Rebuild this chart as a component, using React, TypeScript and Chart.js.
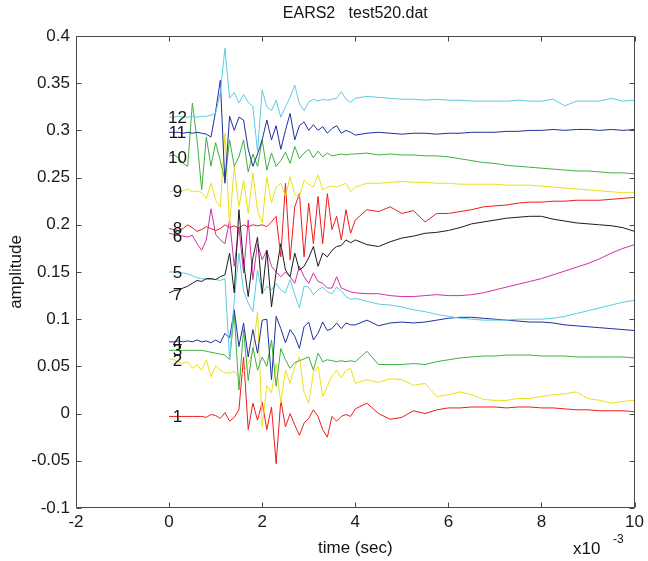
import React, { useEffect, useRef } from "react";
import { Chart, registerables } from "chart.js";

Chart.register(...registerables);

// time axis in units of 1e-3 s
const TIME_MS = [
  0, 0.1, 0.2, 0.3, 0.4, 0.5, 0.6, 0.7, 0.8, 0.9,
  1, 1.1, 1.2, 1.3, 1.4, 1.5, 1.6, 1.7, 1.8, 1.9,
  2, 2.1, 2.2, 2.3, 2.4, 2.5, 2.6, 2.7, 2.8, 2.9,
  3, 3.1, 3.2, 3.3, 3.4, 3.5, 3.6, 3.7, 3.8, 3.9,
  4,
  4.25, 4.5, 4.75, 5, 5.25, 5.5, 5.75, 6,
  6.25, 6.5, 6.75, 7, 7.25, 7.5, 7.75, 8,
  8.25, 8.5, 8.75, 9, 9.25, 9.5, 9.75, 10,
];

const TRACE_1 = [
  -0.003, -0.003, -0.003, -0.003, -0.003, -0.003, -0.003, -0.003, -0.004, -0.001,
  -0.002, -0.005, 0.001, -0.008, -0.004, 0.004, 0.06, -0.017, 0.011, -0.007,
  0.012, -0.017, 0.007, -0.053, 0.014, -0.014, 0.0, -0.012, -0.023, -0.01,
  -0.005, 0.004, -0.003, -0.017, -0.025, -0.003, -0.008, -0.003, -0.001, -0.003,
  0.005,
  0.011, 0.0, -0.006, -0.004, 0.003, 0.0, 0.004, 0.006,
  0.006, 0.007, 0.007, 0.007, 0.006, 0.007, 0.007, 0.006,
  0.006, 0.005, 0.004, 0.004, 0.003, 0.003, 0.003, 0.002,
];
const TRACE_2 = [
  0.058, 0.057, 0.055, 0.053, 0.055, 0.048, 0.052, 0.046, 0.057, 0.039,
  0.051, 0.046, 0.043, 0.043, 0.045, 0.039, 0.044, 0.053, 0.065, 0.108,
  -0.014, 0.03, 0.022, 0.053, 0.011, 0.046, 0.032, 0.05, 0.06, 0.022,
  0.011, 0.043, 0.05, 0.018, 0.029, 0.04, 0.046, 0.038, 0.046, 0.048,
  0.032,
  0.036, 0.033, 0.037, 0.036, 0.03, 0.032, 0.018, 0.02,
  0.023, 0.02, 0.015, 0.014, 0.014, 0.016, 0.016, 0.018,
  0.02, 0.021, 0.023, 0.016, 0.014, 0.011, 0.013, 0.014,
];
const TRACE_3 = [
  0.067, 0.067, 0.067, 0.067, 0.067, 0.067, 0.067, 0.067, 0.066, 0.065,
  0.064, 0.063, 0.062, 0.057, 0.106, 0.025, 0.089, 0.035, 0.07, 0.046,
  0.06, 0.05, 0.078, 0.029, 0.069, 0.057, 0.048, 0.054, 0.056, 0.058,
  0.06, 0.046, 0.064, 0.055, 0.057, 0.056, 0.055, 0.056, 0.055, 0.056,
  0.055,
  0.066, 0.052, 0.052, 0.052, 0.053, 0.052, 0.055, 0.057,
  0.059, 0.06, 0.061, 0.061, 0.062, 0.062, 0.062, 0.061,
  0.061, 0.061, 0.06, 0.06, 0.06, 0.06, 0.06, 0.059,
];
const TRACE_4 = [
  0.076, 0.076, 0.077, 0.076, 0.077, 0.076, 0.078, 0.076, 0.077, 0.075,
  0.078, 0.075, 0.085, 0.08, 0.11, 0.071, 0.096, 0.06, 0.089, 0.064,
  0.099, 0.1, 0.036, 0.103, 0.09, 0.075, 0.089, 0.082, 0.069, 0.092,
  0.097, 0.078, 0.085, 0.097, 0.088, 0.09, 0.096, 0.09, 0.096, 0.094,
  0.094,
  0.099, 0.093, 0.096, 0.097, 0.096, 0.097, 0.099, 0.101,
  0.102, 0.102, 0.101, 0.1, 0.099, 0.098, 0.097, 0.097,
  0.096, 0.094, 0.093, 0.092, 0.091, 0.09, 0.089, 0.088,
];
const TRACE_5 = [
  0.15, 0.15, 0.149, 0.149, 0.148, 0.146, 0.144, 0.143, 0.142, 0.142,
  0.142, 0.141, 0.143, 0.057, 0.12, 0.17, 0.13, 0.117, 0.108, 0.152,
  0.127, 0.135, 0.131, 0.138, 0.131, 0.128, 0.142, 0.126, 0.112, 0.135,
  0.134, 0.126, 0.131, 0.134, 0.129, 0.127, 0.134, 0.13, 0.124, 0.121,
  0.122,
  0.119, 0.116, 0.115, 0.113, 0.11, 0.108, 0.105, 0.103,
  0.101, 0.1, 0.099, 0.099, 0.099, 0.1, 0.1, 0.1,
  0.101, 0.103, 0.106, 0.109, 0.112, 0.115, 0.118, 0.12,
];
const TRACE_6 = [
  0.191, 0.19, 0.189, 0.188, 0.187, 0.189, 0.18, 0.173, 0.184, 0.217,
  0.19, 0.184, 0.18, 0.205, 0.156, 0.198, 0.149, 0.205, 0.142, 0.18,
  0.163, 0.173, 0.156, 0.15, 0.145, 0.15, 0.145, 0.138, 0.156, 0.145,
  0.138, 0.149, 0.14, 0.138, 0.133, 0.133, 0.145, 0.133, 0.131, 0.129,
  0.128,
  0.127, 0.127, 0.125, 0.124, 0.124, 0.125, 0.126, 0.125,
  0.125, 0.126, 0.128, 0.131, 0.134, 0.137, 0.14, 0.143,
  0.147, 0.151, 0.155, 0.159, 0.164, 0.17, 0.175, 0.179,
];
const TRACE_7 = [
  0.128, 0.13, 0.131, 0.133, 0.135, 0.138, 0.141, 0.14, 0.143, 0.143,
  0.142, 0.145, 0.147, 0.17, 0.128, 0.216, 0.16, 0.124, 0.165, 0.187,
  0.127, 0.173, 0.113, 0.15, 0.18, 0.152, 0.145, 0.17, 0.152, 0.156,
  0.165, 0.177, 0.156, 0.17, 0.166, 0.173, 0.177, 0.178, 0.184, 0.181,
  0.184,
  0.179, 0.177, 0.182, 0.186, 0.188, 0.191, 0.192, 0.194,
  0.197, 0.201, 0.203, 0.205, 0.207, 0.208, 0.209, 0.209,
  0.206, 0.204, 0.202, 0.201, 0.2, 0.199, 0.197, 0.193,
];
const TRACE_8 = [
  0.196, 0.195, 0.194, 0.196, 0.2, 0.197, 0.193, 0.195, 0.198, 0.196,
  0.194, 0.196, 0.2, 0.197, 0.199, 0.196, 0.2, 0.198, 0.2, 0.199,
  0.2, 0.198, 0.203, 0.209, 0.166, 0.244, 0.163, 0.219, 0.233, 0.166,
  0.223, 0.18, 0.23, 0.18, 0.233, 0.195, 0.209, 0.184, 0.216, 0.191,
  0.205,
  0.216, 0.214, 0.219, 0.212, 0.215, 0.203, 0.212, 0.212,
  0.214, 0.216, 0.219, 0.22, 0.221, 0.223, 0.224, 0.224,
  0.225, 0.225, 0.226, 0.226, 0.226, 0.227, 0.228, 0.229,
];
const TRACE_9 = [
  0.235, 0.236, 0.234, 0.236, 0.238, 0.235, 0.236, 0.234, 0.228, 0.244,
  0.226, 0.219, 0.297, 0.2, 0.262, 0.219, 0.247, 0.212, 0.255, 0.215,
  0.202, 0.251, 0.223, 0.24, 0.244, 0.23, 0.251, 0.232, 0.23, 0.247,
  0.243, 0.24, 0.253, 0.237, 0.24, 0.241, 0.24, 0.242, 0.244, 0.235,
  0.24,
  0.244, 0.244, 0.245, 0.246, 0.245, 0.245, 0.244, 0.244,
  0.243, 0.243, 0.243, 0.243, 0.242, 0.242, 0.242, 0.241,
  0.24, 0.239, 0.238, 0.237, 0.236, 0.235, 0.234, 0.234,
];
const TRACE_10 = [
  0.273, 0.274, 0.271, 0.265, 0.262, 0.329, 0.29, 0.237, 0.293, 0.262,
  0.287, 0.268, 0.247, 0.29, 0.262, 0.272, 0.29, 0.256, 0.275, 0.262,
  0.29, 0.258, 0.276, 0.262, 0.268, 0.277, 0.265, 0.283, 0.27, 0.276,
  0.28, 0.271, 0.278, 0.272, 0.276, 0.273, 0.274, 0.275, 0.274, 0.275,
  0.275,
  0.276, 0.274, 0.275, 0.274, 0.274, 0.273, 0.273, 0.272,
  0.27, 0.268, 0.266, 0.265, 0.263, 0.262, 0.261, 0.26,
  0.259, 0.258, 0.257, 0.257, 0.256, 0.255, 0.255, 0.254,
];
const TRACE_11 = [
  0.298, 0.298, 0.298, 0.297, 0.298, 0.297, 0.298, 0.297, 0.296, 0.293,
  0.32, 0.353, 0.244, 0.315, 0.3, 0.314, 0.311, 0.28, 0.262, 0.275,
  0.29, 0.311, 0.29, 0.305, 0.28, 0.3, 0.318, 0.29, 0.305, 0.309,
  0.3, 0.306, 0.3, 0.304, 0.297, 0.302, 0.305, 0.297, 0.3, 0.298,
  0.295,
  0.297, 0.298, 0.297, 0.296, 0.297, 0.297, 0.296, 0.297,
  0.297, 0.298, 0.298, 0.298, 0.299, 0.299, 0.3, 0.3,
  0.301, 0.3, 0.301, 0.301, 0.3, 0.301, 0.3, 0.301,
];
const TRACE_12 = [
  0.314, 0.314, 0.315, 0.314, 0.314, 0.315, 0.314, 0.315, 0.315, 0.316,
  0.318, 0.34, 0.387, 0.334, 0.34, 0.329, 0.338, 0.33, 0.325, 0.278,
  0.343, 0.325, 0.321, 0.332, 0.314, 0.325, 0.335, 0.348, 0.328, 0.321,
  0.33, 0.333, 0.331, 0.333, 0.332, 0.333, 0.334, 0.341, 0.333, 0.33,
  0.334,
  0.336, 0.335, 0.334, 0.333, 0.333, 0.332, 0.333, 0.332,
  0.332, 0.331, 0.331, 0.331, 0.331, 0.332, 0.331, 0.331,
  0.333, 0.326, 0.331, 0.331, 0.331, 0.334, 0.331, 0.332,
];

const TRACES = [
  TRACE_1, TRACE_2, TRACE_3, TRACE_4, TRACE_5, TRACE_6,
  TRACE_7, TRACE_8, TRACE_9, TRACE_10, TRACE_11, TRACE_12,
];
const TRACE_NAMES = ["1", "2", "3", "4", "5", "6", "7", "8", "9", "10", "11", "12"];
// vertical position (amplitude) of each trace's number label
const LABEL_AMPLITUDE = [
  -0.003, 0.056, 0.067, 0.076, 0.15, 0.188, 0.126, 0.196, 0.235, 0.272, 0.298, 0.314,
];
const LABEL_TIME = 0.18;

const X_TICKS = [-2, 0, 2, 4, 6, 8, 10];
const Y_TICKS = [-0.1, -0.05, 0, 0.05, 0.1, 0.15, 0.2, 0.25, 0.3, 0.35, 0.4];

const COLORS = [
  "#f01c1c", // r
  "#ece01a", // y
  "#3fb03f", // g
  "#1f2fa0", // b
  "#5ecbe2", // c
  "#d22fa6", // m
  "#1c1c1c", // k
];

const FONT = '"Liberation Sans", Arial, Helvetica, sans-serif';

const framePlugin = {
  id: "frame",
  afterDatasetsDraw(chart: any) {
    const { ctx, chartArea: a, scales } = chart;
    const x = scales.x;
    const y = scales.y;
    ctx.save();
    // box
    ctx.strokeStyle = "#4a4a4a";
    ctx.lineWidth = 1;
    const l = Math.round(a.left) + 0.5;
    const t = Math.round(a.top) + 0.5;
    const r = Math.round(a.right) - 0.5;
    const b = Math.round(a.bottom) - 0.5;
    ctx.beginPath();
    ctx.rect(l, t, r - l, b - t);
    const L = 5;
    X_TICKS.forEach((v) => {
      const px = Math.round(x.getPixelForValue(v)) + 0.5;
      ctx.moveTo(px, b);
      ctx.lineTo(px, b - L);
      ctx.moveTo(px, t);
      ctx.lineTo(px, t + L);
    });
    Y_TICKS.forEach((v) => {
      const py = Math.round(y.getPixelForValue(v)) + 0.5;
      ctx.moveTo(l, py);
      ctx.lineTo(l + L, py);
      ctx.moveTo(r, py);
      ctx.lineTo(r - L, py);
    });
    ctx.stroke();

    // trace numbers
    ctx.fillStyle = "#141414";
    ctx.font = `17px ${FONT}`;
    ctx.textAlign = "center";
    ctx.textBaseline = "middle";
    TRACE_NAMES.forEach((n, i) => {
      ctx.fillText(n, x.getPixelForValue(LABEL_TIME), y.getPixelForValue(LABEL_AMPLITUDE[i]) + 1);
    });

    // title
    const cx = (a.left + a.right) / 2;
    ctx.font = `16px ${FONT}`;
    ctx.fillText("EARS2   test520.dat", cx, 14);

    // axis titles
    ctx.font = `17px ${FONT}`;
    ctx.fillText("time (sec)", cx, 548);
    ctx.save();
    ctx.translate(16, (a.top + a.bottom) / 2);
    ctx.rotate(-Math.PI / 2);
    ctx.fillText("amplitude", 0, 0);
    ctx.restore();

    // exponent
    ctx.textAlign = "left";
    ctx.fillText("x10", 573, 549);
    ctx.font = `12px ${FONT}`;
    ctx.fillText("-3", 613, 540);
    ctx.restore();
  },
};

export default function App() {
  const ref = useRef<HTMLCanvasElement | null>(null);

  useEffect(() => {
    if (!ref.current) return;
    const datasets = TRACES.map((vals, i) => ({
      label: TRACE_NAMES[i],
      data: vals.map((v, j) => ({ x: TIME_MS[j], y: v })),
      borderColor: COLORS[i % COLORS.length],
      backgroundColor: COLORS[i % COLORS.length],
      borderWidth: 1,
      pointRadius: 0,
      showLine: true,
      tension: 0,
      fill: false,
      order: TRACES.length - i,
    }));

    const chart = new Chart(ref.current, {
      type: "scatter",
      data: { datasets },
      options: {
        animation: false,
        responsive: false,
        devicePixelRatio: 1,
        layout: { padding: { top: 36, right: 11, left: 0, bottom: 0 } },
        plugins: {
          legend: { display: false },
          tooltip: { enabled: false },
          title: { display: false },
        },
        scales: {
          x: {
            type: "linear",
            min: -2,
            max: 10,
            afterBuildTicks: (s: any) => {
              s.ticks = X_TICKS.map((v) => ({ value: v }));
            },
            afterFit: (s: any) => {
              s.height = 53;
            },
            ticks: {
              autoSkip: false,
              maxRotation: 0,
              padding: 4,
              color: "#1a1a1a",
              font: { size: 17, family: FONT },
              callback: (v: any) => String(v),
            },
            grid: { display: false, drawTicks: false },
            border: { display: false },
          },
          y: {
            type: "linear",
            min: -0.1,
            max: 0.4,
            afterBuildTicks: (s: any) => {
              s.ticks = Y_TICKS.map((v) => ({ value: v }));
            },
            afterFit: (s: any) => {
              s.width = 76;
            },
            ticks: {
              autoSkip: false,
              padding: 6,
              color: "#1a1a1a",
              font: { size: 17, family: FONT },
              callback: (v: any) => String(Number(Number(v).toFixed(2))),
            },
            grid: { display: false, drawTicks: false },
            border: { display: false },
          },
        },
      } as any,
      plugins: [framePlugin],
    });
    return () => chart.destroy();
  }, []);

  return (
    <div style={{ position: "absolute", left: 0, top: 0, width: 648, height: 561, background: "#fff" }}>
      <canvas ref={ref} width={648} height={561} style={{ width: 648, height: 561, display: "block" }} />
    </div>
  );
}
